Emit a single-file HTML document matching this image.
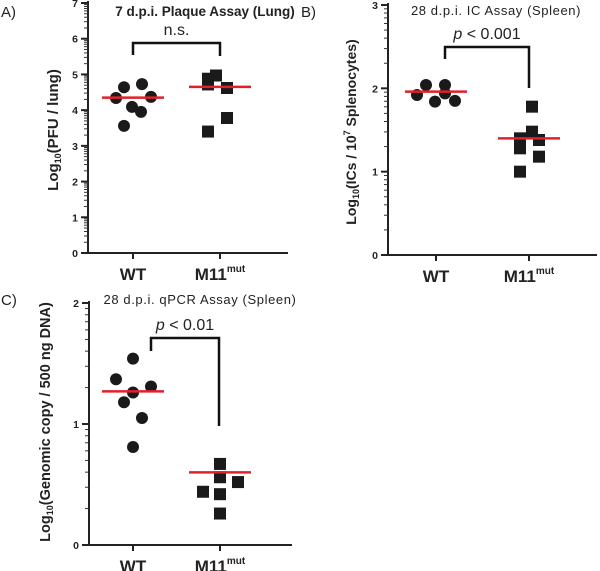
<!DOCTYPE html>
<html><head><meta charset="utf-8"><style>
body{margin:0;background:#fff;}
svg{display:block;font-family:"Liberation Sans",Arial,sans-serif;}
</style></head><body>
<svg id="c" width="600" height="571" viewBox="0 0 600 571"></svg>
<script>
const categories = ["WT", "M11"];
const aWT = [4.34, 4.64, 4.73, 4.37, 4.09, 3.95, 3.56];
const aM11 = [4.88, 4.97, 4.62, 4.72, 3.78, 3.40];
const aMeans = [4.35, 4.65];
const bWT = [1.92, 2.04, 1.84, 2.04, 1.94, 1.85];
const bM11 = [1.78, 1.48, 1.40, 1.28, 1.38, 1.18, 1.00];
const bMeans = [1.96, 1.40];
const cWT = [1.54, 1.37, 1.31, 1.26, 1.18, 1.05, 0.81];
const cM11 = [0.67, 0.56, 0.52, 0.44, 0.42, 0.26];
const cMeans = [1.27, 0.60];
const aTicks = [0,1,2,3,4,5,6,7];
const bTicks = [0,1,2,3];
const cTicks = [0,1,2];

const NS="http://www.w3.org/2000/svg";
const svg=document.getElementById('c');
function mk(tag,attrs,parent,text){const e=document.createElementNS(NS,tag);for(const k in attrs)e.setAttribute(k,attrs[k]);if(text!==undefined)e.textContent=text;(parent||svg).appendChild(e);return e;}

function panel(cfg){
  const g=mk('g',{});
  
  
  const ymax=cfg.ticks[cfg.ticks.length-1];
  const ys=v=>cfg.y0-(cfg.y0-cfg.yTop)*v/ymax;
  const xs=i=>cfg.xc[i];
  const ya=mk('line',{x1:cfg.ax,y1:cfg.yTop-2,x2:cfg.ax,y2:cfg.y0,stroke:'#222','stroke-width':2},g);
  
  const xa=mk('line',{x1:cfg.ax,y1:cfg.y0,x2:cfg.axEnd,y2:cfg.y0,stroke:'#222','stroke-width':2},g);
  
  cfg.ticks.forEach((t,k)=>{
    const y=ys(t);
    mk('line',{x1:cfg.ax-7,y1:y,x2:cfg.ax,y2:y,stroke:'#222','stroke-width':2},g);
    const tl=mk('text',{x:cfg.ax-10,y:y+4,'text-anchor':'end','font-size':10.5,'font-weight':'bold',fill:'#222'},g,String(t));
    
    if(k<cfg.ticks.length-1){for(let m=2;m<=9;m++){const yy=ys(t+Math.log10(m));mk('line',{x1:cfg.ax-4,y1:yy,x2:cfg.ax,y2:yy,stroke:'#333','stroke-width':1},g);}}
  });
  categories.forEach((c,i)=>{
    mk('line',{x1:xs(i),y1:cfg.y0,x2:xs(i),y2:cfg.y0+6,stroke:'#222','stroke-width':2},g);
    const t=mk('text',{x:xs(i),y:cfg.y0+27,'text-anchor':'middle','font-size':17,'font-weight':'bold',fill:'#222'},g);
    
    t.textContent=c;
    if(i===1){mk('tspan',{'font-size':10,dy:-8},t,'mut');}
  });
  cfg.wt.forEach((v,j)=>{
    const c=mk('circle',{cx:xs(0)+cfg.wtOff[j],cy:ys(v),r:6,fill:'#1a1a1a'},g);
    
  });
  cfg.m11.forEach((v,j)=>{
    const r=mk('rect',{x:xs(1)+cfg.mOff[j]-6,y:ys(v)-6,width:12,height:12,fill:'#1a1a1a'},g);
    
  });
  cfg.means.forEach((m,i)=>{
    const l=mk('line',{x1:xs(i)-31,y1:ys(m),x2:xs(i)+31,y2:ys(m),stroke:'#e0202a','stroke-width':2.5},g);
    
  });
  const b=cfg.br;
  const p=mk('path',{d:`M${b.x1},${b.yl} V${b.top} H${b.x2} V${b.yr}`,fill:'none',stroke:'#111','stroke-width':2.5},g);
  
  const st=mk('text',{x:(b.x1+b.x2)/2,y:b.top-8,'text-anchor':'middle','font-size':16,fill:'#222'},g);
  
  if(cfg.sig==='n.s.'){st.textContent='n.s.';}else{mk('tspan',{'font-style':'italic'},st,'p');mk('tspan',{},st,' < '+cfg.sig);}
  const tt=mk('text',{x:cfg.tx,y:cfg.ty,'text-anchor':'middle','font-size':cfg.tfs,'font-weight':cfg.tw,'letter-spacing':cfg.tls,fill:'#222'},g,cfg.title);
  
  const pl=mk('text',{x:cfg.lx,y:cfg.ly,'font-size':15,fill:'#222'},g,cfg.letter);
  
  const yt=mk('text',{transform:`translate(${cfg.ytx},${cfg.yty}) rotate(-90)`,'text-anchor':'middle','font-size':cfg.yfs,'font-weight':'bold',fill:'#222'},g);
  
  mk('tspan',{},yt,'Log');mk('tspan',{'font-size':9,dy:3},yt,'10');
  mk('tspan',{dy:-3},yt,cfg.ytitle[0]);
  if(cfg.ytitle.length>1){mk('tspan',{'font-size':9,dy:-6},yt,cfg.ytitle[1]);mk('tspan',{dy:6},yt,cfg.ytitle[2]);}
}

panel({name:'panel-a',ticks:aTicks,y0:253,yTop:3,ax:88,axEnd:288,xc:[133,220],wt:aWT,m11:aM11,means:aMeans,
 wtOff:[-17,-9,9,18,-1,8,-9],mOff:[-12,-4,7,-12,7,-12],
 br:{x1:133,x2:220,top:43,yl:55,yr:56},sig:'n.s.',title:'7 d.p.i. Plaque Assay (Lung)',tx:205,ty:16,tw:'bold',tfs:13.5,tls:0,
 letter:'A)',lx:1,ly:17,ytx:58,yty:130,yfs:15,ytitle:['(PFU / lung)']});
panel({name:'panel-b',ticks:bTicks,y0:255,yTop:5,ax:388,axEnd:597,xc:[436,529],wt:bWT,m11:bM11,means:bMeans,
 wtOff:[-19,-10,-1,9,9,19],mOff:[3,3,-9,-9,10,10,-9],
 br:{x1:445,x2:529,top:47,yl:59,yr:88},sig:'0.001',title:'28 d.p.i. IC Assay (Spleen)',tx:496,ty:15,tw:'normal',tfs:13,tls:0.6,
 letter:'B)',lx:301,ly:17,ytx:356,yty:132,yfs:14,ytitle:['(ICs / 10','7',' Splenocytes)']});
panel({name:'panel-c',ticks:cTicks,y0:545,yTop:303,ax:89,axEnd:292,xc:[133,220],wt:cWT,m11:cM11,means:cMeans,
 wtOff:[0,-17,18,0,-9,9,0],mOff:[0,0,18,-17,0,0],
 br:{x1:151,x2:219,top:338,yl:351,yr:426},sig:'0.01',title:'28 d.p.i. qPCR Assay (Spleen)',tx:200,ty:304,tw:'normal',tfs:13,tls:0.6,
 letter:'C)',lx:1,ly:305,ytx:50,yty:422,yfs:14.5,ytitle:['(Genomic copy /  500 ng DNA)']});
</script>
</body></html>
